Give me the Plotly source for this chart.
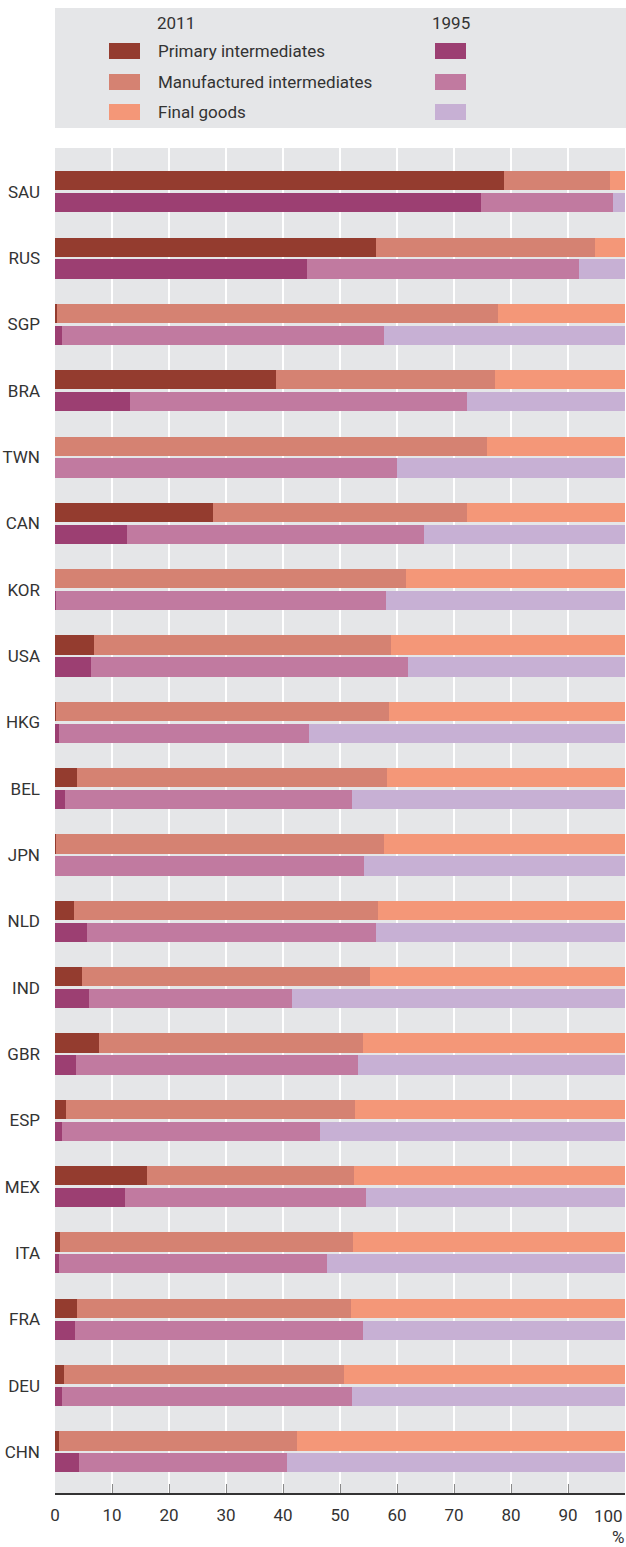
import plotly.graph_objects as go

countries = ["SAU", "RUS", "SGP", "BRA", "TWN", "CAN", "KOR", "USA", "HKG", "BEL",
             "JPN", "NLD", "IND", "GBR", "ESP", "MEX", "ITA", "FRA", "DEU", "CHN"]

primary_2011 = [78.8, 56.3, 0.3, 38.8, 0.0, 27.8, 0.0, 6.8, 0.2, 3.9,
                0.1, 3.3, 4.7, 7.8, 1.9, 16.1, 0.8, 3.9, 1.5, 0.7]
manuf_2011 = [18.6, 38.4, 77.4, 38.4, 75.8, 44.5, 61.6, 52.1, 58.4, 54.3,
              57.6, 53.4, 50.6, 46.2, 50.7, 36.4, 51.5, 48.0, 49.2, 41.8]
final_2011 = [2.6, 5.3, 22.3, 22.8, 24.2, 27.7, 38.4, 41.1, 41.4, 41.8,
              42.3, 43.3, 44.7, 46.0, 47.4, 47.5, 47.7, 48.1, 49.3, 57.5]

primary_1995 = [74.8, 44.2, 1.2, 13.2, 0.0, 12.6, 0.2, 6.4, 0.7, 1.8,
                0.0, 5.6, 6.0, 3.6, 1.2, 12.3, 0.7, 3.5, 1.2, 4.2]
manuf_1995 = [23.1, 47.7, 56.6, 59.1, 60.0, 52.2, 57.9, 55.5, 43.9, 50.3,
              54.2, 50.7, 35.6, 49.6, 45.3, 42.3, 47.0, 50.5, 50.9, 36.5]
final_1995 = [2.1, 8.1, 42.2, 27.7, 40.0, 35.2, 41.9, 38.1, 55.4, 47.9,
              45.8, 43.7, 58.4, 46.8, 53.5, 45.4, 52.3, 46.0, 47.9, 59.3]

x_ticks = [0, 10, 20, 30, 40, 50, 60, 70, 80, 90, 100]
x_ticktext = ["0", "10", "20", "30", "40", "50", "60", "70", "80", "90", "100"]

series_names = ["Primary intermediates", "Manufactured intermediates", "Final goods"]
colors_2011 = ["#943c2f", "#d58272", "#f49778"]
colors_1995 = ["#9c3f72", "#c17aa0", "#c7b0d4"]

FONT = "Roboto, Liberation Sans, sans-serif"
TXT = "#333333"

W, H = 626, 1547
L, R, T, B = 55, 1, 148, 54
PW, PH = W - L - R, H - T - B

idx = list(range(len(countries)))
off = 0.165
bw = 0.29
y_2011 = [i - off for i in idx]
y_1995 = [i + off for i in idx]

fig = go.Figure()
for vals, col, nm in zip([primary_2011, manuf_2011, final_2011], colors_2011, series_names):
    fig.add_trace(go.Bar(x=vals, y=y_2011, orientation="h", width=bw, marker_color=col,
                         marker_line_width=0, name=nm + " 2011", showlegend=False, yaxis="y2"))
for vals, col, nm in zip([primary_1995, manuf_1995, final_1995], colors_1995, series_names):
    fig.add_trace(go.Bar(x=vals, y=y_1995, orientation="h", width=bw, marker_color=col,
                         marker_line_width=0, name=nm + " 1995", showlegend=False, yaxis="y2"))

y_top = -0.66
y_bot = 19.62
boundaries = [y_top] + [i + 0.5 for i in idx[:-1]]

fig.update_layout(
    width=W, height=H,
    margin=dict(l=L, r=R, t=T, b=B, pad=0),
    barmode="stack",
    bargap=0,
    paper_bgcolor="white",
    plot_bgcolor="#e5e6e8",
    font=dict(family=FONT, size=17, color=TXT),
    xaxis=dict(range=[0, 100], tickvals=x_ticks, ticktext=x_ticktext[:-1] + [""],
               showgrid=True, gridcolor="white", gridwidth=2,
               ticks="inside", ticklen=9, tickcolor="#8a8a8a", tickwidth=1,
               showline=True, linecolor="#333333", linewidth=2,
               zeroline=False, ticklabelstandoff=6, fixedrange=True),
    yaxis=dict(range=[y_bot, y_top], tickvals=boundaries, showticklabels=False,
               showgrid=True, gridcolor="white", gridwidth=2,
               ticks="inside", ticklen=8, tickcolor="#333333", tickwidth=1.5,
               showline=True, linecolor="#333333", linewidth=2, zeroline=False),
    yaxis2=dict(range=[y_bot, y_top], overlaying="y", side="left",
                tickvals=idx, ticktext=countries, ticks="", showgrid=False,
                showline=False, zeroline=False, ticklabelstandoff=14),
)

def px_x(x):
    return (x - L) / PW

def px_y(y):
    return (T + PH - y) / PH

# last x tick label, kept inside the page (right-aligned at its tick)
fig.add_annotation(text=x_ticktext[-1], xref="x", yref="paper", x=x_ticks[-1],
                   y=px_y(1516), xanchor="right", yanchor="middle", showarrow=False)

# legend panel
fig.add_shape(type="rect", xref="paper", yref="paper",
              x0=px_x(55), x1=px_x(626), y0=px_y(128), y1=px_y(8),
              fillcolor="#e5e6e8", line_width=0, layer="below")
fig.add_annotation(text="2011", xref="paper", yref="paper", x=px_x(155), y=px_y(23),
                   xanchor="left", yanchor="middle", showarrow=False)
fig.add_annotation(text="1995", xref="paper", yref="paper", x=px_x(430), y=px_y(23),
                   xanchor="left", yanchor="middle", showarrow=False)
rows = [(43, 59), (74, 90), (104, 120)]
for (r0, r1), nm, c11, c95 in zip(rows, series_names, colors_2011, colors_1995):
    fig.add_shape(type="rect", xref="paper", yref="paper",
                  x0=px_x(109), x1=px_x(140), y0=px_y(r1), y1=px_y(r0),
                  fillcolor=c11, line_width=0)
    fig.add_shape(type="rect", xref="paper", yref="paper",
                  x0=px_x(435), x1=px_x(466), y0=px_y(r1), y1=px_y(r0),
                  fillcolor=c95, line_width=0)
    fig.add_annotation(text=nm, xref="paper", yref="paper", x=px_x(156),
                       y=px_y((r0 + r1) / 2), xanchor="left", yanchor="middle",
                       showarrow=False)

fig.add_annotation(text="%", xref="paper", yref="paper", x=px_x(618), y=px_y(1537),
                   xanchor="center", yanchor="middle", showarrow=False)

fig.write_html("out.html", post_script="document.body.style.margin='0';",
               config={"displayModeBar": False})
